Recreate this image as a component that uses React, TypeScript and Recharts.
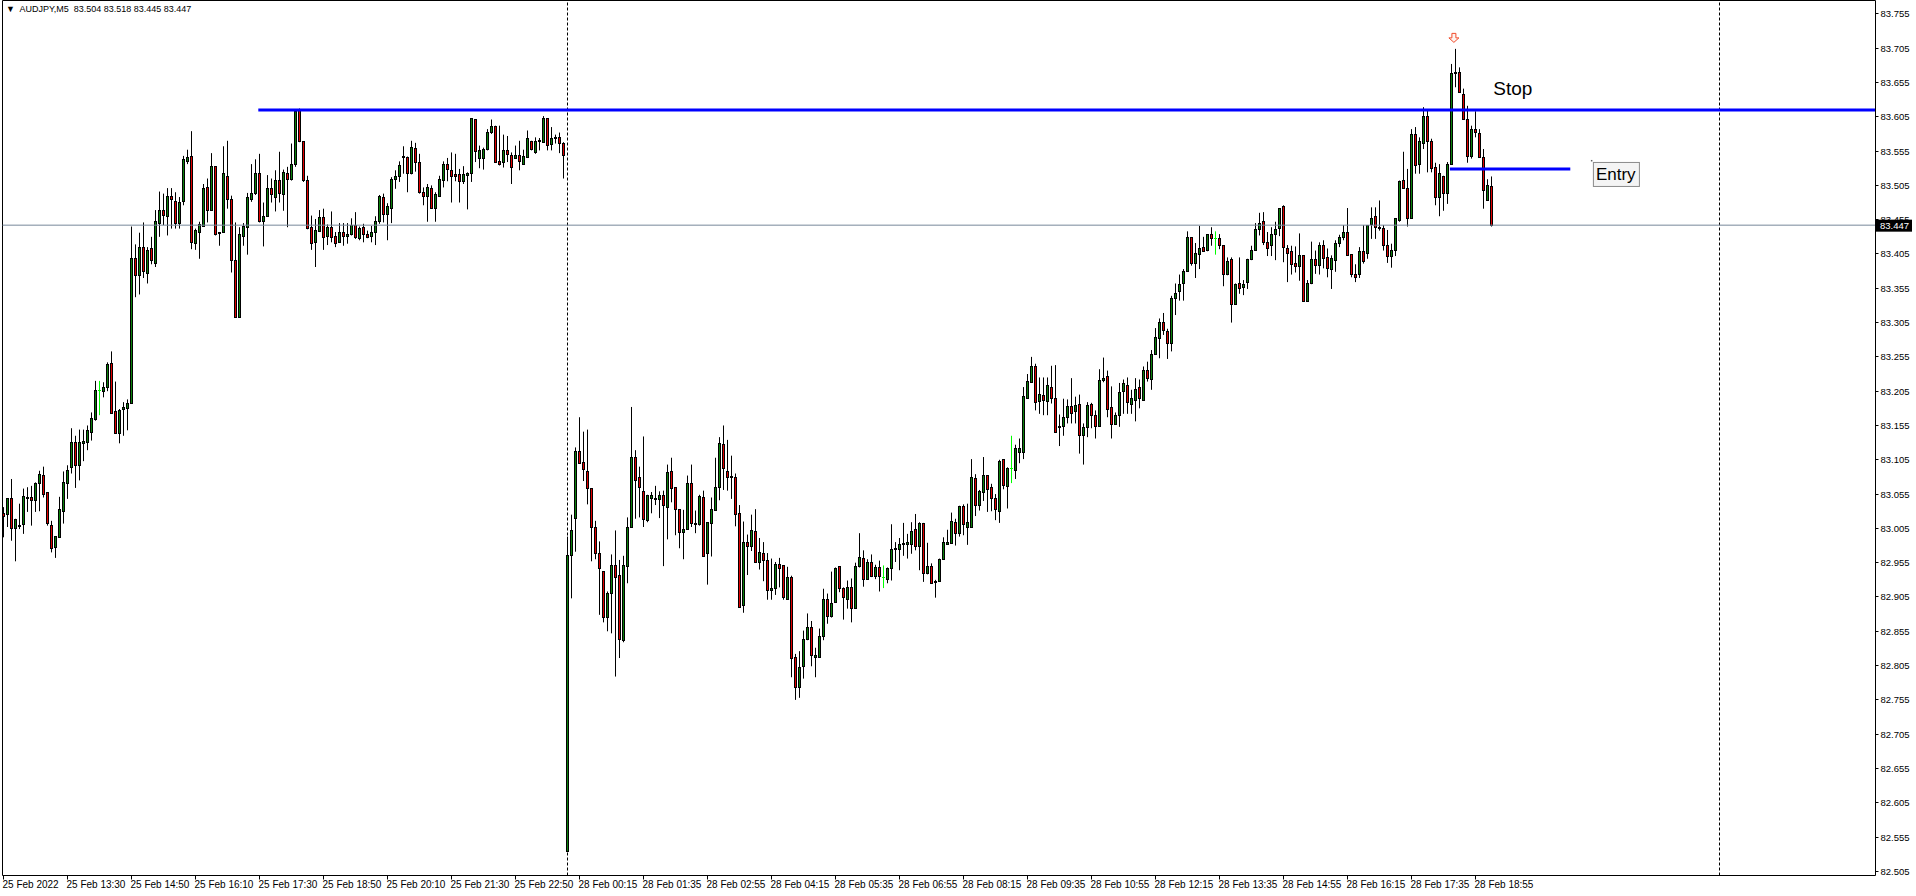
import { ComposedChart, Bar, XAxis, YAxis, ReferenceLine, ReferenceDot } from 'recharts'

// open, high, low, close
type Candle = [number, number, number, number]

// 25 Feb, 12:10 .. 23:50
const fridayCandles: Candle[] = [
  [83.027, 83.036, 82.992, 83.022], [83.025, 83.049, 83.007, 83.048], [83.048, 83.077, 82.987, 83.005], [83.005, 83.019, 82.957, 83.018],
  [83.008, 83.041, 83.004, 83.009], [83.010, 83.063, 82.997, 83.051], [83.049, 83.065, 83.029, 83.050], [83.050, 83.067, 83.009, 83.045],
  [83.045, 83.072, 83.029, 83.071], [83.070, 83.089, 83.030, 83.084], [83.082, 83.095, 83.050, 83.055], [83.057, 83.057, 83.009, 83.012],
  [83.009, 83.016, 82.970, 82.975], [82.977, 82.993, 82.962, 82.993], [82.992, 83.051, 82.991, 83.033], [83.029, 83.088, 83.012, 83.072],
  [83.071, 83.097, 83.048, 83.090], [83.094, 83.151, 83.085, 83.130], [83.130, 83.140, 83.064, 83.096], [83.097, 83.149, 83.075, 83.130],
  [83.129, 83.149, 83.103, 83.132], [83.130, 83.155, 83.119, 83.147], [83.145, 83.174, 83.133, 83.165], [83.163, 83.220, 83.162, 83.206],
  [83.206, 83.220, 83.170, 83.206], [83.204, 83.218, 83.196, 83.211], [83.211, 83.247, 83.205, 83.244], [83.245, 83.263, 83.173, 83.173],
  [83.175, 83.219, 83.144, 83.144], [83.144, 83.179, 83.129, 83.177], [83.178, 83.189, 83.140, 83.181], [83.180, 83.193, 83.148, 83.187],
  [83.187, 83.445, 83.187, 83.398], [83.399, 83.419, 83.342, 83.373], [83.373, 83.436, 83.346, 83.415], [83.415, 83.451, 83.370, 83.379],
  [83.377, 83.415, 83.362, 83.410], [83.413, 83.430, 83.390, 83.396], [83.391, 83.469, 83.386, 83.453], [83.449, 83.496, 83.430, 83.468],
  [83.468, 83.493, 83.447, 83.461], [83.460, 83.501, 83.432, 83.489], [83.489, 83.501, 83.442, 83.484], [83.481, 83.495, 83.442, 83.449],
  [83.450, 83.488, 83.442, 83.480], [83.482, 83.548, 83.476, 83.543], [83.540, 83.557, 83.536, 83.546], [83.547, 83.584, 83.412, 83.422],
  [83.421, 83.442, 83.411, 83.439], [83.437, 83.452, 83.398, 83.448], [83.445, 83.507, 83.445, 83.500], [83.502, 83.515, 83.451, 83.468],
  [83.468, 83.552, 83.468, 83.533], [83.532, 83.532, 83.432, 83.434], [83.435, 83.437, 83.417, 83.436], [83.436, 83.562, 83.436, 83.522],
  [83.518, 83.570, 83.471, 83.484], [83.484, 83.490, 83.378, 83.396], [83.395, 83.451, 83.312, 83.312], [83.312, 83.444, 83.312, 83.433],
  [83.431, 83.450, 83.417, 83.445], [83.444, 83.494, 83.404, 83.487], [83.485, 83.536, 83.481, 83.493], [83.493, 83.543, 83.491, 83.522],
  [83.522, 83.551, 83.451, 83.453], [83.453, 83.480, 83.416, 83.459], [83.459, 83.520, 83.459, 83.501], [83.501, 83.515, 83.480, 83.491],
  [83.488, 83.527, 83.467, 83.512], [83.512, 83.554, 83.480, 83.493], [83.491, 83.528, 83.468, 83.524], [83.523, 83.532, 83.444, 83.513],
  [83.513, 83.566, 83.512, 83.536], [83.536, 83.614, 83.532, 83.612], [83.614, 83.617, 83.568, 83.569], [83.569, 83.569, 83.510, 83.512],
  [83.512, 83.519, 83.441, 83.442], [83.443, 83.461, 83.411, 83.421], [83.422, 83.456, 83.386, 83.439], [83.438, 83.469, 83.437, 83.458],
  [83.458, 83.471, 83.411, 83.429], [83.431, 83.448, 83.418, 83.443], [83.444, 83.467, 83.422, 83.429], [83.430, 83.437, 83.415, 83.421],
  [83.422, 83.450, 83.421, 83.437], [83.437, 83.450, 83.417, 83.431], [83.431, 83.450, 83.420, 83.434], [83.434, 83.457, 83.432, 83.447],
  [83.447, 83.466, 83.427, 83.429], [83.427, 83.445, 83.425, 83.442], [83.443, 83.449, 83.422, 83.434], [83.434, 83.439, 83.428, 83.429],
  [83.431, 83.446, 83.422, 83.436], [83.437, 83.460, 83.418, 83.453], [83.453, 83.491, 83.449, 83.489], [83.487, 83.493, 83.451, 83.462],
  [83.462, 83.479, 83.425, 83.474], [83.472, 83.517, 83.450, 83.514], [83.514, 83.527, 83.500, 83.518], [83.518, 83.540, 83.510, 83.534],
  [83.545, 83.562, 83.522, 83.547], [83.546, 83.547, 83.495, 83.523], [83.522, 83.570, 83.521, 83.560], [83.559, 83.567, 83.525, 83.539],
  [83.539, 83.551, 83.493, 83.495], [83.495, 83.502, 83.476, 83.489], [83.489, 83.507, 83.452, 83.502], [83.501, 83.505, 83.471, 83.471],
  [83.471, 83.495, 83.452, 83.491], [83.489, 83.519, 83.488, 83.514], [83.512, 83.540, 83.502, 83.536], [83.535, 83.545, 83.511, 83.528],
  [83.526, 83.553, 83.480, 83.518], [83.521, 83.551, 83.511, 83.518], [83.521, 83.529, 83.480, 83.510], [83.510, 83.533, 83.507, 83.521],
  [83.519, 83.524, 83.470, 83.523], [83.523, 83.603, 83.510, 83.602], [83.601, 83.601, 83.539, 83.554], [83.544, 83.563, 83.530, 83.556],
  [83.544, 83.560, 83.528, 83.557], [83.557, 83.587, 83.556, 83.582], [83.582, 83.601, 83.580, 83.591], [83.591, 83.592, 83.539, 83.539],
  [83.540, 83.592, 83.534, 83.535], [83.539, 83.579, 83.531, 83.556], [83.556, 83.577, 83.539, 83.550], [83.549, 83.553, 83.507, 83.531],
  [83.544, 83.563, 83.544, 83.549], [83.549, 83.570, 83.527, 83.540], [83.536, 83.557, 83.535, 83.547], [83.546, 83.585, 83.545, 83.573],
  [83.569, 83.570, 83.556, 83.558], [83.553, 83.575, 83.551, 83.569], [83.569, 83.574, 83.556, 83.570], [83.568, 83.606, 83.568, 83.603],
  [83.603, 83.603, 83.556, 83.563], [83.564, 83.590, 83.556, 83.574], [83.574, 83.579, 83.566, 83.575], [83.575, 83.582, 83.552, 83.566],
  [83.566, 83.568, 83.515, 83.548],
]

// 28 Feb, 00:00 .. 19:15
const mondayCandles: Candle[] = [
  [82.534, 82.993, 82.534, 82.966], [82.966, 83.025, 82.903, 83.002], [83.020, 83.123, 82.971, 83.117], [83.117, 83.167, 83.100, 83.100],
  [83.101, 83.146, 83.074, 83.091], [83.088, 83.149, 83.040, 83.063], [83.063, 83.063, 82.957, 83.007], [83.006, 83.016, 82.960, 82.969],
  [82.969, 82.986, 82.879, 82.947], [82.942, 82.942, 82.868, 82.875], [82.875, 82.913, 82.855, 82.910], [82.910, 82.967, 82.852, 82.951],
  [82.951, 83.002, 82.789, 82.933], [82.936, 82.959, 82.816, 82.843], [82.841, 82.965, 82.839, 82.951], [82.950, 83.021, 82.925, 83.006],
  [83.006, 83.182, 83.006, 83.108], [83.108, 83.119, 83.019, 83.075], [83.079, 83.095, 83.021, 83.064], [83.059, 83.139, 83.007, 83.018],
  [83.017, 83.054, 83.014, 83.053], [83.048, 83.058, 83.027, 83.053], [83.049, 83.067, 83.039, 83.047], [83.047, 83.059, 83.020, 83.053],
  [83.053, 83.060, 82.950, 83.039], [83.036, 83.098, 82.989, 83.086], [83.088, 83.108, 83.043, 83.063], [83.064, 83.064, 82.995, 83.033],
  [83.033, 83.033, 82.976, 82.999], [82.999, 83.032, 82.960, 83.003], [83.003, 83.082, 83.003, 83.071], [83.071, 83.098, 83.007, 83.012],
  [83.012, 83.031, 82.998, 83.010], [83.010, 83.054, 83.009, 83.052], [83.050, 83.060, 82.964, 82.964], [82.969, 83.013, 82.923, 83.013],
  [83.012, 83.050, 82.964, 83.032], [83.031, 83.108, 83.031, 83.064], [83.065, 83.138, 83.046, 83.129], [83.127, 83.155, 83.061, 83.092],
  [83.088, 83.134, 83.060, 83.079], [83.079, 83.111, 83.048, 83.080], [83.079, 83.085, 83.008, 83.025], [83.026, 83.039, 82.890, 82.890],
  [82.892, 83.015, 82.882, 82.984], [82.984, 82.996, 82.937, 82.979], [82.979, 83.025, 82.972, 83.002], [83.000, 83.033, 82.955, 82.955],
  [82.955, 82.991, 82.945, 82.970], [82.969, 82.985, 82.928, 82.958], [82.958, 82.969, 82.901, 82.915], [82.915, 82.961, 82.901, 82.918],
  [82.917, 82.956, 82.908, 82.952], [82.953, 82.962, 82.919, 82.947], [82.951, 82.951, 82.901, 82.904], [82.901, 82.949, 82.901, 82.933],
  [82.933, 82.936, 82.788, 82.816], [82.817, 82.822, 82.755, 82.773], [82.773, 82.826, 82.758, 82.802], [82.804, 82.856, 82.786, 82.843],
  [82.843, 82.881, 82.842, 82.860], [82.860, 82.870, 82.804, 82.819], [82.817, 82.831, 82.788, 82.820], [82.817, 82.859, 82.817, 82.848],
  [82.848, 82.917, 82.842, 82.901], [82.901, 82.910, 82.866, 82.877], [82.877, 82.942, 82.875, 82.896], [82.897, 82.948, 82.897, 82.947],
  [82.950, 82.950, 82.912, 82.917], [82.917, 82.919, 82.872, 82.904], [82.902, 82.929, 82.888, 82.919], [82.919, 82.932, 82.868, 82.888],
  [82.888, 82.955, 82.888, 82.950], [82.950, 82.998, 82.948, 82.962], [82.961, 82.973, 82.920, 82.930], [82.931, 82.960, 82.931, 82.955],
  [82.955, 82.967, 82.934, 82.935], [82.935, 82.952, 82.931, 82.948], [82.948, 82.958, 82.913, 82.935], [82.934, 82.951, 82.918, 82.934],
  [82.931, 82.948, 82.925, 82.946], [82.946, 83.011, 82.929, 82.974], [82.974, 82.985, 82.956, 82.975], [82.974, 82.991, 82.944, 82.982],
  [82.982, 83.013, 82.965, 82.983], [82.982, 82.997, 82.961, 82.984], [82.982, 83.014, 82.968, 83.001], [83.003, 83.026, 82.973, 82.978],
  [82.979, 83.014, 82.944, 83.012], [83.012, 83.013, 82.927, 82.939], [82.939, 82.984, 82.938, 82.950], [82.950, 82.954, 82.924, 82.924],
  [82.927, 82.930, 82.904, 82.928], [82.928, 82.961, 82.928, 82.959], [82.960, 82.992, 82.960, 82.984], [82.982, 83.003, 82.981, 82.984],
  [82.983, 83.028, 82.983, 83.015], [83.013, 83.019, 82.980, 82.998], [82.998, 83.038, 82.993, 83.037], [83.037, 83.040, 82.995, 83.011],
  [83.006, 83.041, 82.981, 83.013], [83.006, 83.106, 83.006, 83.079], [83.078, 83.084, 83.023, 83.038], [83.039, 83.061, 83.031, 83.059],
  [83.058, 83.109, 83.045, 83.082], [83.082, 83.082, 83.029, 83.062], [83.064, 83.070, 83.030, 83.048], [83.048, 83.055, 83.017, 83.032],
  [83.030, 83.105, 83.013, 83.102], [83.105, 83.105, 83.062, 83.068], [83.066, 83.094, 83.034, 83.093], [83.092, 83.140, 83.071, 83.092],
  [83.090, 83.127, 83.077, 83.122], [83.116, 83.136, 83.100, 83.122], [83.116, 83.211, 83.106, 83.197], [83.195, 83.230, 83.195, 83.219],
  [83.218, 83.255, 83.218, 83.241], [83.241, 83.245, 83.177, 83.189], [83.190, 83.225, 83.172, 83.200], [83.199, 83.225, 83.170, 83.191],
  [83.190, 83.225, 83.170, 83.214], [83.211, 83.242, 83.187, 83.195], [83.195, 83.243, 83.145, 83.145], [83.154, 83.171, 83.125, 83.152],
  [83.153, 83.194, 83.140, 83.166], [83.166, 83.193, 83.158, 83.183], [83.183, 83.224, 83.158, 83.173], [83.176, 83.197, 83.158, 83.184],
  [83.185, 83.200, 83.114, 83.141], [83.141, 83.158, 83.098, 83.152], [83.152, 83.189, 83.138, 83.184], [83.185, 83.188, 83.151, 83.170],
  [83.170, 83.177, 83.136, 83.153], [83.154, 83.237, 83.154, 83.220], [83.220, 83.254, 83.218, 83.224], [83.227, 83.235, 83.167, 83.179],
  [83.181, 83.212, 83.136, 83.157], [83.157, 83.174, 83.157, 83.169], [83.170, 83.217, 83.153, 83.203], [83.204, 83.222, 83.172, 83.216],
  [83.214, 83.225, 83.172, 83.188], [83.186, 83.207, 83.172, 83.194], [83.192, 83.224, 83.161, 83.208], [83.210, 83.222, 83.180, 83.194],
  [83.192, 83.241, 83.192, 83.235], [83.235, 83.248, 83.219, 83.224], [83.222, 83.265, 83.207, 83.259], [83.259, 83.297, 83.259, 83.283],
  [83.282, 83.311, 83.253, 83.305], [83.305, 83.319, 83.287, 83.293], [83.292, 83.296, 83.252, 83.275], [83.275, 83.344, 83.263, 83.340],
  [83.340, 83.362, 83.316, 83.348], [83.351, 83.375, 83.337, 83.361], [83.362, 83.383, 83.337, 83.379], [83.380, 83.438, 83.380, 83.429],
  [83.429, 83.429, 83.388, 83.391], [83.391, 83.421, 83.370, 83.405], [83.404, 83.446, 83.383, 83.413], [83.414, 83.430, 83.408, 83.409],
  [83.410, 83.434, 83.409, 83.433], [83.433, 83.444, 83.417, 83.428], [83.427, 83.438, 83.404, 83.427], [83.427, 83.434, 83.412, 83.418],
  [83.417, 83.417, 83.358, 83.375], [83.375, 83.400, 83.374, 83.394], [83.397, 83.400, 83.305, 83.332], [83.332, 83.362, 83.331, 83.360],
  [83.362, 83.400, 83.347, 83.354], [83.356, 83.367, 83.345, 83.361], [83.363, 83.398, 83.354, 83.397], [83.397, 83.417, 83.396, 83.410],
  [83.410, 83.450, 83.410, 83.440], [83.440, 83.465, 83.432, 83.450], [83.452, 83.466, 83.418, 83.422], [83.422, 83.437, 83.402, 83.413],
  [83.418, 83.444, 83.402, 83.434], [83.434, 83.452, 83.396, 83.440], [83.442, 83.472, 83.431, 83.472], [83.474, 83.476, 83.393, 83.414],
  [83.413, 83.418, 83.364, 83.406], [83.408, 83.417, 83.375, 83.390], [83.391, 83.416, 83.378, 83.387], [83.387, 83.435, 83.366, 83.403],
  [83.403, 83.403, 83.335, 83.335], [83.336, 83.367, 83.335, 83.362], [83.362, 83.423, 83.361, 83.397], [83.397, 83.410, 83.376, 83.388],
  [83.388, 83.422, 83.375, 83.418], [83.418, 83.425, 83.384, 83.399], [83.400, 83.413, 83.371, 83.384], [83.383, 83.403, 83.354, 83.399],
  [83.396, 83.425, 83.379, 83.421], [83.421, 83.433, 83.415, 83.429], [83.429, 83.447, 83.425, 83.437], [83.437, 83.472, 83.403, 83.403],
  [83.404, 83.404, 83.371, 83.375], [83.375, 83.390, 83.364, 83.371], [83.375, 83.415, 83.370, 83.408], [83.409, 83.447, 83.391, 83.394],
  [83.405, 83.447, 83.398, 83.447], [83.448, 83.473, 83.427, 83.456], [83.460, 83.473, 83.427, 83.443], [83.443, 83.483, 83.439, 83.444],
  [83.442, 83.447, 83.410, 83.418], [83.418, 83.440, 83.392, 83.402], [83.402, 83.420, 83.385, 83.410], [83.410, 83.456, 83.402, 83.456],
  [83.454, 83.512, 83.452, 83.511], [83.512, 83.554, 83.500, 83.501], [83.500, 83.529, 83.445, 83.456], [83.456, 83.587, 83.456, 83.579],
  [83.579, 83.590, 83.522, 83.534], [83.535, 83.575, 83.522, 83.569], [83.566, 83.619, 83.558, 83.605], [83.605, 83.614, 83.524, 83.569],
  [83.569, 83.573, 83.524, 83.530], [83.531, 83.538, 83.476, 83.488], [83.487, 83.536, 83.460, 83.522], [83.518, 83.519, 83.468, 83.493],
  [83.493, 83.539, 83.478, 83.536], [83.535, 83.682, 83.535, 83.668], [83.668, 83.704, 83.648, 83.670], [83.669, 83.677, 83.640, 83.640],
  [83.638, 83.646, 83.601, 83.601], [83.601, 83.621, 83.538, 83.547], [83.547, 83.592, 83.544, 83.586], [83.586, 83.613, 83.575, 83.582],
  [83.580, 83.587, 83.545, 83.546], [83.546, 83.558, 83.471, 83.497], [83.483, 83.514, 83.483, 83.505], [83.504, 83.518, 83.445, 83.447],
]

const timeLabels = [
  '25 Feb 2022', '25 Feb 13:30', '25 Feb 14:50', '25 Feb 16:10', '25 Feb 17:30', '25 Feb 18:50',
  '25 Feb 20:10', '25 Feb 21:30', '25 Feb 22:50', '28 Feb 00:15', '28 Feb 01:35', '28 Feb 02:55',
  '28 Feb 04:15', '28 Feb 05:35', '28 Feb 06:55', '28 Feb 08:15', '28 Feb 09:35', '28 Feb 10:55',
  '28 Feb 12:15', '28 Feb 13:35', '28 Feb 14:55', '28 Feb 16:15', '28 Feb 17:35', '28 Feb 18:55',
]
const barsPerLabel = 16

const priceTicks = [
  82.505, 82.555, 82.605, 82.655, 82.705, 82.755, 82.805, 82.855, 82.905, 82.955, 83.005, 83.055, 83.105,
  83.155, 83.205, 83.255, 83.305, 83.355, 83.405, 83.455, 83.505, 83.555, 83.605, 83.655, 83.705, 83.755,
]

const symbol = 'AUDJPY,M5'
const stopLevel = 83.615
const entryLevel = 83.529
const separators = [141, 429]

const FONT = '"Liberation Sans", Arial, sans-serif'
const BULL = '#0a800a'
const BEAR = '#e00000'
const DOJI = '#00ff00'

const candles = [...fridayCandles, ...mondayCandles]
const data = candles.map(([o, h, l, c], i) => ({ i, o, h, l, c, range: [l, h] }))
const last = candles[candles.length - 1]
const bid = last[3]

function CandleShape(props: any) {
  const { x, y, width, height, payload } = props
  if (!payload || !Number.isFinite(x) || !Number.isFinite(y)) return null
  const { o, h, l, c } = payload
  const cx = Math.floor(x + (width || 0) / 2) + 0.5
  const span = h - l
  const py = (p: number) => (span > 0 ? y + ((h - p) / span) * height : y)
  if (o === c) {
    const yy = Math.floor(py(o)) + 0.5
    return (
      <g>
        <line x1={cx} x2={cx} y1={py(h)} y2={py(l)} stroke={DOJI} />
        <line x1={cx - 1.5} x2={cx + 1.5} y1={yy} y2={yy} stroke={DOJI} />
      </g>
    )
  }
  const top = Math.floor(py(Math.max(o, c))) + 0.5
  const bot = Math.max(Math.floor(py(Math.min(o, c))) + 0.5, top + 1)
  return (
    <g>
      <line x1={cx} x2={cx} y1={py(h)} y2={py(l)} stroke="#000" />
      <rect x={cx - 1} y={top} width={2} height={bot - top} fill={c > o ? BULL : BEAR} stroke="#000" />
    </g>
  )
}

const TimeTick = (props: any) => {
  const { x, y, payload } = props
  const label = timeLabels[Math.round(payload.value / barsPerLabel)]
  const tx = Math.floor(x) + 0.5
  return (
    <g>
      <line x1={tx} x2={tx} y1={y} y2={y + 4} stroke="#000" />
      <text x={tx - 1} y={y + 12} fontSize={10} fontFamily={FONT} fill="#000">{label}</text>
    </g>
  )
}

const PriceTick = (props: any) => {
  const { x, y, payload } = props
  const ty = Math.floor(y) + 0.5
  return (
    <g>
      <line x1={x} x2={x + 3} y1={ty} y2={ty} stroke="#000" />
      <text x={x + 5} y={y + 3.5} fontSize={9.5} fontFamily={FONT} fill="#000">{payload.value.toFixed(3)}</text>
    </g>
  )
}

const BidBox = (props: any) => {
  const { viewBox } = props
  if (!viewBox) return null
  const right = viewBox.x + viewBox.width
  const yy = viewBox.y
  return (
    <g>
      <rect x={right + 0.5} y={yy - 5.5} width={36} height={12} fill="#000" />
      <text x={right + 4.5} y={yy + 4} fontSize={9.5} fontFamily={FONT} fill="#fff">{bid.toFixed(3)}</text>
    </g>
  )
}

const SellArrow = (props: any) => {
  const { cx, cy } = props
  const d = `M${cx - 2} ${cy - 4.5} L${cx + 2} ${cy - 4.5} L${cx + 2} ${cy} L${cx + 5} ${cy} L${cx} ${cy + 4.5} L${cx - 5} ${cy} L${cx - 2} ${cy} Z`
  return <path d={d} fill="#fff4f0" stroke="#f04a2a" strokeWidth={1} />
}

const StopText = (props: any) => (
  <text x={props.cx} y={props.cy + 6.5} fontSize={19} fontFamily={FONT} fill="#000">Stop</text>
)

const EntryText = (props: any) => {
  const { cx, cy } = props
  return (
    <g>
      <rect x={cx - 1} y={cy - 1} width={1.5} height={1.5} fill="#606060" />
      <rect x={cx + 1.5} y={cy + 1.5} width={46} height={24} fill="#f4f4f4" stroke="#8a8a8a" />
      <text x={cx + 4} y={cy + 19} fontSize={17} fontFamily={FONT} fill="#000">Entry</text>
    </g>
  )
}

export default function App() {
  const timeTicks = timeLabels.map((_, k) => k * barsPerLabel)
  return (
    <div style={{ position: 'relative', width: 1916, height: 896, background: '#fff' }}>
      <style>{'body{margin:0;background:#fff}'}</style>
      <ComposedChart
        width={1916}
        height={896}
        data={data}
        margin={{ top: 0.5, right: 0, bottom: 0, left: 2.5 }}
      >
        <XAxis
          type="number"
          dataKey="i"
          domain={[-0.25, 468]}
          allowDataOverflow
          ticks={timeTicks}
          interval={0}
          height={20.5}
          tickSize={0}
          tickMargin={0}
          tick={<TimeTick />}
          axisLine={{ stroke: '#000' }}
        />
        <YAxis
          type="number"
          orientation="right"
          domain={[82.499, 83.7745]}
          allowDataOverflow
          ticks={priceTicks}
          interval={0}
          width={40.5}
          tickSize={0}
          tickMargin={0}
          tick={<PriceTick />}
          axisLine={{ stroke: '#000' }}
        />
        <ReferenceLine x={-0.25} stroke="#000" />
        <ReferenceLine y={83.7745} stroke="#000" />
        {separators.map((s) => (
          <ReferenceLine key={s} x={s} stroke="#000" strokeDasharray="3 2" {...({ zIndex: 0 } as any)} />
        ))}
        <Bar dataKey="range" shape={CandleShape} isAnimationActive={false} barSize={3} />
        <ReferenceLine y={bid} stroke="#778899" label={<BidBox />} />
        <ReferenceLine
          segment={[{ x: 63.7, y: stopLevel }, { x: 468, y: stopLevel }]}
          stroke="#0000ff"
          strokeWidth={3}
        />
        <ReferenceLine
          segment={[{ x: 361.6, y: entryLevel }, { x: 391.7, y: entryLevel }]}
          stroke="#0000ff"
          strokeWidth={3}
        />
        <ReferenceDot x={362.6} y={83.72} r={0} shape={SellArrow} ifOverflow="visible" />
        <ReferenceDot x={372.45} y={83.6455} r={0} shape={StopText} ifOverflow="visible" />
        <ReferenceDot x={397.1} y={83.5406} r={0} shape={EntryText} ifOverflow="visible" />
      </ComposedChart>
      <div
        style={{
          position: 'absolute',
          left: 6,
          top: 4,
          fontFamily: FONT,
          fontSize: 9,
          lineHeight: '11px',
          color: '#000',
          whiteSpace: 'pre',
        }}
      >
        {'\u25BC  ' + symbol + '  ' + last.map((v) => v.toFixed(3)).join(' ')}
      </div>
    </div>
  )
}
